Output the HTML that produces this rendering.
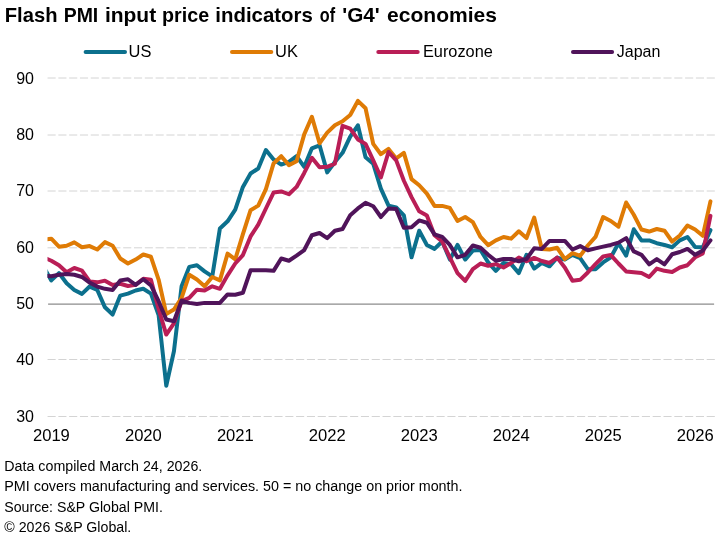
<!DOCTYPE html>
<html><head><meta charset="utf-8"><title>Flash PMI input price indicators</title>
<style>
html,body{margin:0;padding:0;background:#fff;}
body{width:726px;height:536px;overflow:hidden;font-family:"Liberation Sans",sans-serif;}
svg{display:block;will-change:transform;}
text{font-family:"Liberation Sans",sans-serif;fill:#000;}
.ax{font-size:16px;}
.title{font-size:20.6px;font-weight:bold;fill:#000;}
.ft{font-size:14.67px;fill:#000;}
</style></head><body>
<svg width="726" height="536" viewBox="0 0 726 536">
<rect width="726" height="536" fill="#fff"/>
<text x="4.80" y="21.5" class="title" textLength="52.70" lengthAdjust="spacingAndGlyphs">Flash</text>
<text x="63.70" y="21.5" class="title" textLength="34.60" lengthAdjust="spacingAndGlyphs">PMI</text>
<text x="104.90" y="21.5" class="title" textLength="51.30" lengthAdjust="spacingAndGlyphs">input</text>
<text x="162.10" y="21.5" class="title" textLength="47.00" lengthAdjust="spacingAndGlyphs">price</text>
<text x="215.30" y="21.5" class="title" textLength="97.50" lengthAdjust="spacingAndGlyphs">indicators</text>
<text x="319.80" y="21.5" class="title" textLength="15.30" lengthAdjust="spacingAndGlyphs">of</text>
<text x="342.30" y="21.5" class="title" textLength="37.50" lengthAdjust="spacingAndGlyphs">'G4'</text>
<text x="387.10" y="21.5" class="title" textLength="109.90" lengthAdjust="spacingAndGlyphs">economies</text>

<line x1="85.6" x2="125" y1="52" y2="52" stroke="#0c708d" stroke-width="4" stroke-linecap="round"/>
<text x="128.54999999999998" y="56.7" class="ax" textLength="22.8" lengthAdjust="spacingAndGlyphs">US</text>
<line x1="232" x2="271.3" y1="52" y2="52" stroke="#df7b05" stroke-width="4" stroke-linecap="round"/>
<text x="275.09999999999997" y="56.7" class="ax" textLength="22.8" lengthAdjust="spacingAndGlyphs">UK</text>
<line x1="378.3" x2="417.7" y1="52" y2="52" stroke="#b91e56" stroke-width="4" stroke-linecap="round"/>
<text x="422.95" y="56.7" class="ax" textLength="69.9" lengthAdjust="spacingAndGlyphs">Eurozone</text>
<line x1="573" x2="612.1" y1="52" y2="52" stroke="#50145a" stroke-width="4" stroke-linecap="round"/>
<text x="616.7" y="56.7" class="ax" textLength="43.7" lengthAdjust="spacingAndGlyphs">Japan</text>
<line x1="47.55" x2="715.1" y1="78.00" y2="78.00" stroke="#d4d4d4" stroke-width="1" stroke-dasharray="8.1,2.706"/>
<line x1="47.55" x2="715.1" y1="135.00" y2="135.00" stroke="#d4d4d4" stroke-width="1" stroke-dasharray="8.1,2.706"/>
<line x1="47.55" x2="715.1" y1="191.00" y2="191.00" stroke="#d4d4d4" stroke-width="1" stroke-dasharray="8.1,2.706"/>
<line x1="47.55" x2="715.1" y1="247.80" y2="247.80" stroke="#d4d4d4" stroke-width="1" stroke-dasharray="8.1,2.706"/>
<line x1="47.55" x2="715.1" y1="359.50" y2="359.50" stroke="#d4d4d4" stroke-width="1" stroke-dasharray="8.1,2.706"/>
<line x1="47.55" x2="715.1" y1="416.50" y2="416.50" stroke="#d4d4d4" stroke-width="1" stroke-dasharray="8.1,2.706"/>
<line x1="48.1" x2="714.1" y1="304.15" y2="304.15" stroke="#8c8c8c" stroke-width="1.4"/>
<text x="34" y="83.50" text-anchor="end" class="ax">90</text>
<text x="34" y="140.34" text-anchor="end" class="ax">80</text>
<text x="34" y="196.23" text-anchor="end" class="ax">70</text>
<text x="34" y="253.18" text-anchor="end" class="ax">60</text>
<text x="34" y="309.40" text-anchor="end" class="ax">50</text>
<text x="34" y="364.95" text-anchor="end" class="ax">40</text>
<text x="34" y="421.90" text-anchor="end" class="ax">30</text>
<text x="32.95" y="441.1" class="ax" textLength="36.9" lengthAdjust="spacingAndGlyphs">2019</text>
<text x="124.92" y="441.1" class="ax" textLength="36.9" lengthAdjust="spacingAndGlyphs">2020</text>
<text x="216.90" y="441.1" class="ax" textLength="36.9" lengthAdjust="spacingAndGlyphs">2021</text>
<text x="308.87" y="441.1" class="ax" textLength="36.9" lengthAdjust="spacingAndGlyphs">2022</text>
<text x="400.85" y="441.1" class="ax" textLength="36.9" lengthAdjust="spacingAndGlyphs">2023</text>
<text x="492.82" y="441.1" class="ax" textLength="36.9" lengthAdjust="spacingAndGlyphs">2024</text>
<text x="584.79" y="441.1" class="ax" textLength="36.9" lengthAdjust="spacingAndGlyphs">2025</text>
<text x="676.77" y="441.1" class="ax" textLength="36.9" lengthAdjust="spacingAndGlyphs">2026</text>

<defs><clipPath id="cp"><rect x="47.5" y="60" width="668" height="370"/></clipPath></defs>
<g clip-path="url(#cp)">
<path d="M43.64,266.89 L51.30,280.39 L58.96,273.08 L66.63,283.20 L74.29,289.94 L81.96,293.88 L89.62,286.57 L97.29,289.94 L104.95,307.33 L112.62,314.55 L120.28,295.57 L127.95,293.60 L135.61,290.51 L143.27,288.82 L150.94,293.60 L158.60,315.11 L166.27,385.75 L173.93,351.22 L181.60,286.29 L189.26,266.89 L196.93,265.21 L204.59,271.39 L212.25,276.45 L219.92,228.42 L227.58,221.30 L235.25,209.62 L242.91,186.92 L250.58,173.50 L258.24,168.47 L265.91,150.03 L273.57,159.53 L281.24,164.56 L288.90,161.77 L296.56,156.18 L304.23,166.80 L311.89,148.35 L319.56,145.28 L327.22,172.39 L334.89,162.05 L342.55,152.82 L350.22,136.62 L357.88,125.28 L365.54,157.30 L373.21,163.72 L380.87,188.59 L388.54,205.64 L396.20,207.35 L403.87,215.32 L411.53,257.34 L419.20,230.69 L426.86,244.93 L434.53,248.90 L442.19,241.52 L449.85,259.59 L457.52,244.93 L465.18,259.59 L472.85,250.59 L480.51,250.03 L488.18,262.40 L495.84,270.83 L503.51,262.96 L511.17,264.08 L518.83,273.08 L526.50,254.81 L534.16,268.58 L541.83,262.96 L549.49,266.33 L557.16,257.62 L564.82,259.59 L572.49,254.81 L580.15,258.18 L587.81,269.14 L595.48,269.14 L603.14,262.40 L610.81,257.34 L618.47,243.22 L626.14,255.65 L633.80,229.27 L641.47,240.38 L649.13,240.38 L656.80,243.22 L664.46,244.93 L672.12,247.21 L679.79,240.38 L687.45,236.96 L695.12,246.93 L702.78,247.21 L710.45,230.13" fill="none" stroke="#0c708d" stroke-width="4" stroke-linejoin="round" stroke-linecap="round"/>
<path d="M43.64,239.81 L51.30,238.67 L58.96,246.64 L66.63,245.79 L74.29,242.37 L81.96,247.21 L89.62,246.07 L97.29,249.47 L104.95,242.09 L112.62,245.79 L120.28,258.46 L127.95,263.52 L135.61,259.59 L143.27,254.53 L150.94,256.78 L158.60,279.54 L166.27,314.00 L173.93,309.56 L181.60,297.82 L189.26,274.77 L196.93,279.54 L204.59,286.29 L212.25,277.01 L219.92,280.39 L227.58,253.63 L235.25,259.31 L242.91,234.11 L250.58,210.19 L258.24,205.64 L265.91,189.15 L273.57,163.44 L281.24,156.18 L288.90,165.12 L296.56,161.21 L304.23,134.37 L311.89,116.75 L319.56,143.32 L327.22,132.67 L334.89,125.28 L342.55,121.30 L350.22,115.05 L357.88,100.84 L365.54,108.23 L373.21,143.88 L380.87,154.22 L388.54,148.91 L396.20,158.41 L403.87,152.82 L411.53,179.09 L419.20,185.24 L426.86,193.68 L434.53,205.92 L442.19,205.92 L449.85,207.92 L457.52,221.01 L465.18,217.03 L472.85,222.15 L480.51,236.96 L488.18,245.22 L495.84,240.38 L503.51,236.96 L511.17,238.67 L518.83,231.26 L526.50,238.10 L534.16,217.60 L541.83,248.90 L549.49,249.47 L557.16,247.78 L564.82,259.02 L572.49,253.12 L580.15,255.93 L587.81,245.50 L595.48,236.96 L603.14,217.03 L610.81,221.01 L618.47,226.71 L626.14,202.50 L633.80,214.75 L641.47,229.56 L649.13,231.55 L656.80,228.99 L664.46,230.69 L672.12,241.52 L679.79,235.54 L687.45,225.57 L695.12,229.56 L702.78,235.82 L710.45,201.37" fill="none" stroke="#df7b05" stroke-width="4" stroke-linejoin="round" stroke-linecap="round"/>
<path d="M43.64,257.34 L51.30,260.71 L58.96,265.21 L66.63,272.24 L74.29,268.02 L81.96,270.55 L89.62,281.51 L97.29,282.36 L104.95,280.67 L112.62,284.89 L120.28,283.76 L127.95,286.01 L135.61,284.89 L143.27,278.70 L150.94,279.83 L158.60,309.00 L166.27,334.55 L173.93,323.44 L181.60,301.19 L189.26,297.82 L196.93,289.66 L204.59,290.51 L212.25,286.29 L219.92,288.82 L227.58,275.33 L235.25,263.52 L242.91,255.09 L250.58,236.39 L258.24,224.72 L265.91,208.48 L273.57,192.54 L281.24,191.40 L288.90,194.25 L296.56,186.92 L304.23,172.95 L311.89,157.85 L319.56,167.36 L327.22,166.80 L334.89,163.72 L342.55,125.85 L350.22,128.69 L357.88,139.41 L365.54,143.88 L373.21,160.37 L380.87,177.42 L388.54,151.99 L396.20,160.37 L403.87,180.77 L411.53,197.09 L419.20,211.33 L426.86,215.60 L434.53,235.25 L442.19,241.52 L449.85,257.34 L457.52,273.08 L465.18,280.95 L472.85,269.14 L480.51,263.52 L488.18,265.77 L495.84,264.08 L503.51,267.46 L511.17,262.96 L518.83,257.62 L526.50,261.27 L534.16,257.90 L541.83,260.99 L549.49,262.96 L557.16,257.62 L564.82,267.46 L572.49,280.67 L580.15,279.83 L587.81,272.52 L595.48,264.08 L603.14,256.49 L610.81,255.09 L618.47,263.52 L626.14,271.39 L633.80,272.24 L641.47,273.08 L649.13,277.01 L656.80,268.58 L664.46,270.83 L672.12,271.95 L679.79,267.46 L687.45,265.21 L695.12,257.34 L702.78,253.40 L710.45,215.89" fill="none" stroke="#b91e56" stroke-width="4" stroke-linejoin="round" stroke-linecap="round"/>
<path d="M43.64,275.89 L51.30,276.17 L58.96,274.77 L66.63,273.92 L74.29,274.77 L81.96,277.01 L89.62,282.64 L97.29,286.57 L104.95,288.82 L112.62,289.94 L120.28,280.39 L127.95,279.26 L135.61,284.89 L143.27,279.26 L150.94,285.45 L158.60,301.19 L166.27,319.55 L173.93,321.22 L181.60,300.63 L189.26,302.88 L196.93,304.00 L204.59,302.88 L212.25,302.88 L219.92,302.88 L227.58,294.44 L235.25,294.72 L242.91,292.76 L250.58,270.27 L258.24,270.27 L265.91,270.27 L273.57,270.83 L281.24,258.46 L288.90,260.71 L296.56,255.65 L304.23,250.03 L311.89,235.25 L319.56,232.97 L327.22,238.10 L334.89,230.69 L342.55,228.99 L350.22,215.32 L357.88,208.48 L365.54,202.79 L373.21,206.21 L380.87,217.03 L388.54,208.48 L396.20,209.05 L403.87,227.85 L411.53,227.28 L419.20,220.44 L426.86,222.72 L434.53,234.40 L442.19,236.96 L449.85,244.93 L457.52,257.34 L465.18,254.81 L472.85,245.50 L480.51,247.78 L488.18,254.81 L495.84,260.71 L503.51,259.02 L511.17,259.02 L518.83,261.27 L526.50,259.02 L534.16,248.34 L541.83,248.90 L549.49,240.95 L557.16,240.95 L564.82,240.95 L572.49,249.47 L580.15,246.07 L587.81,250.31 L595.48,248.34 L603.14,246.64 L610.81,244.93 L618.47,242.65 L626.14,238.10 L633.80,251.43 L641.47,254.81 L649.13,264.36 L656.80,259.02 L664.46,264.36 L672.12,254.25 L679.79,252.00 L687.45,248.90 L695.12,254.81 L702.78,250.59 L710.45,240.38" fill="none" stroke="#50145a" stroke-width="4" stroke-linejoin="round" stroke-linecap="round"/>
</g>
<text x="4.3" y="470.8" class="ft" textLength="198" lengthAdjust="spacingAndGlyphs">Data compiled March 24, 2026.</text>
<text x="4.3" y="491.2" class="ft" textLength="458.2" lengthAdjust="spacingAndGlyphs">PMI covers manufacturing and services. 50 = no change on prior month.</text>
<text x="4.3" y="511.6" class="ft" textLength="158.6" lengthAdjust="spacingAndGlyphs">Source: S&amp;P Global PMI.</text>
<text x="4.3" y="532" class="ft" textLength="127" lengthAdjust="spacingAndGlyphs">© 2026 S&amp;P Global.</text>
</svg>
</body></html>
